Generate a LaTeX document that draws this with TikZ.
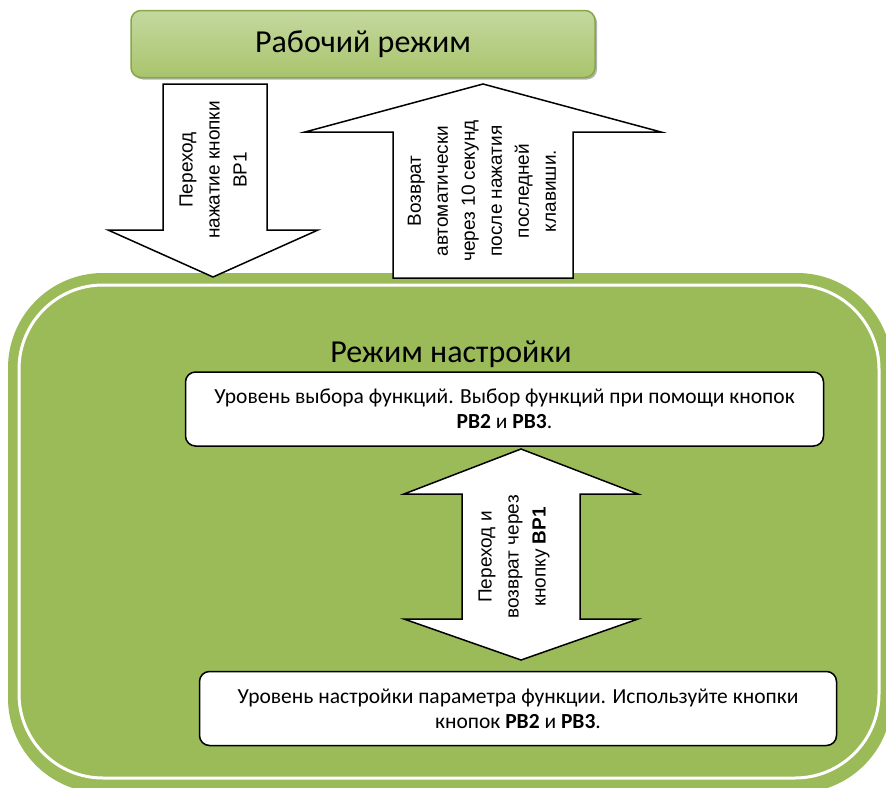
\documentclass[tikz,border=0pt]{standalone}
\usepackage{fontspec}
\setmainfont{Carlito}
\newfontfamily\arialfont{Liberation Sans}
\usetikzlibrary{shadows}

\definecolor{setgreen}{HTML}{9BBB59}
\definecolor{setgreenlight}{HTML}{C4D89F}
\definecolor{setgreenbottom}{HTML}{A9C46C}
\definecolor{setgreendark}{HTML}{86A845}

\tikzset{
  modebox/.style={draw=setgreendark, line width=1.5pt, rounded corners=10pt,
    top color=setgreenlight, middle color=setgreen, bottom color=setgreenbottom,
    drop shadow={shadow xshift=2pt, shadow yshift=-2pt, fill=black!60},
    font=\fontsize{32}{38}\selectfont},
  levelbox/.style={draw, line width=1.5pt, rounded corners=10pt, fill=white,
    align=center, font=\fontsize{21.5}{25}\selectfont},
  blockarrow/.style={draw, line width=1.5pt, fill=white, line join=miter},
  arrowtext/.style={rotate=90, align=center, font=\arialfont\fontsize{19}{27}\selectfont}
}

\begin{document}
\begin{tikzpicture}[x=1pt, y=-1pt]
\useasboundingbox (0,0) rectangle (886,787);

% Режим настройки
\fill[setgreen, rounded corners=95pt] (8,273) rectangle (892,793);
\draw[white, line width=3pt, rounded corners=84pt] (19,285) rectangle (879,778);
\node[font=\fontsize{32}{38}\selectfont] (setup) at (451,354) {Режим настройки};

\node[levelbox, minimum width=638pt, minimum height=74pt] (select) at (504.5,409)
  {Уровень выбора функций. Выбор функций при помощи кнопок\\\textbf{PB2} и \textbf{PB3}.};
\node[levelbox, minimum width=637pt, minimum height=74pt] (adjust) at (518,708.5)
  {Уровень настройки параметра функции. Используйте кнопки\\кнопок \textbf{PB2} и \textbf{PB3}.};

% Рабочий режим
\node[modebox, minimum width=464pt, minimum height=67pt] (work) at (363,44) {Рабочий режим};

% Переход
\draw[blockarrow] (163,84) -- (267,84) -- (267,230) -- (318,230) -- (213,277)
  -- (108,230) -- (163,230) -- cycle;
\node[arrowtext] (enter) at (213,170) {Переход\\нажатие кнопки\\BP1};

% Возврат
\draw[blockarrow] (393,278) -- (393,132) -- (305,132) -- (483,84) -- (661,132)
  -- (573,132) -- (573,278) -- cycle;
\node[arrowtext] (back) at (482,191)
  {Возврат\\автоматически\\через 10 секунд\\после нажатия\\последней\\клавиши.};

% Переход и возврат
\draw[blockarrow] (521,449) -- (638,494) -- (580,494) -- (580,619) -- (638,619)
  -- (521,660) -- (404,619) -- (462,619) -- (462,494) -- (404,494) -- cycle;
\node[arrowtext] (switch) at (514,557) {Переход и\\возврат через\\кнопку \textbf{BP1}};

\end{tikzpicture}
\end{document}
